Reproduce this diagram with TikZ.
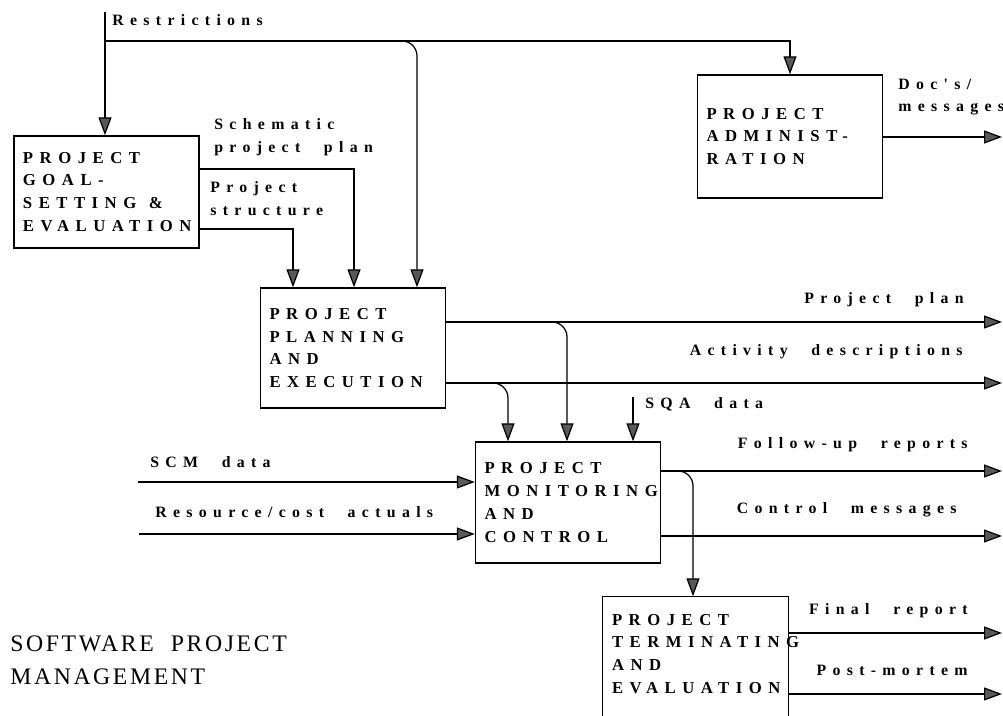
\documentclass[tikz,border=0pt]{standalone}
\usepackage{fontspec}
\usetikzlibrary{arrows.meta}
\newfontfamily\boxfont[LetterSpace=39]{Liberation Serif}
\newfontfamily\labelfont[LetterSpace=40,WordSpace=2.3]{Liberation Serif}
\newfontfamily\titlefont[LetterSpace=11,WordSpace=2]{Liberation Serif}
\hyphenpenalty=10000

\tikzset{
  box/.style={draw, line width=0.8pt, text width=33.4mm, align=left,
              inner xsep=1.8mm, inner ysep=0pt, minimum width=37mm,
              font=\boxfont\bfseries\fontsize{9.5}{13}\selectfont},
  lbl/.style={inner sep=0pt, align=left,
              font=\labelfont\bfseries\fontsize{9}{13}\selectfont},
  title/.style={inner sep=0pt, align=left,
              font=\titlefont\fontsize{13.5}{18.7}\selectfont},
  flow/.style={line width=0.7pt, -{Triangle[length=3.6mm,width=2.6mm,fill=black!65]}},
}

\begin{document}
\begin{tikzpicture}[x=0.2mm, y=-0.2mm]
  \useasboundingbox (0,0) rectangle (1003,716);

  % activity boxes
  \node[box, minimum height=22.4mm] (goal) at (106.5,192)
       {PROJECT\\GOAL-\\SETTING\hspace*{2.5mm}\&\\EVALUATION};
  \node[box, minimum height=24mm] (plan) at (353,348)
       {PROJECT\\PLANNING\\AND\\EXECUTION};
  \node[box, minimum height=24.2mm] (mon) at (568,502.5)
       {PROJECT\\MONITORING\\AND\\CONTROL};
  \node[box, minimum height=24.6mm] (adm) at (790,136.5)
       {PROJECT\\ADMINIST-\\RATION};
  \node[box, draw=none, minimum height=22.8mm] (term) at (695.5,654)
       {PROJECT\\TERMINATING\\AND\\EVALUATION};
  \draw[line width=0.8pt] (term.north west) rectangle ([yshift=-12mm]term.south east);

  % restrictions
  \coordinate (rtop) at (105,12);
  \coordinate (rjoin) at (105,41);
  \coordinate (rbend) at (417,41);
  \draw[flow] (rtop) -- (goal.north -| rtop);
  \draw[flow] (rjoin) -| (adm.north);
  \draw[flow, rounded corners=3mm] (rjoin) -- (rbend) -- (plan.north -| rbend);

  % goal-setting to planning
  \coordinate (schem) at (354,169);
  \coordinate (struc) at (293,229);
  \draw[flow] (goal.east |- schem) -- (schem) -- (plan.north -| schem);
  \draw[flow] (goal.east |- struc) -- (struc) -- (plan.north -| struc);

  % planning outputs
  \coordinate (pplan) at (1002,322);
  \coordinate (actd) at (1002,383);
  \coordinate (pbend) at (567,322);
  \coordinate (abend) at (508,383);
  \draw[flow] (plan.east |- pplan) -- (pplan);
  \draw[flow] (plan.east |- actd) -- (actd);
  \draw[flow, rounded corners=3mm] (plan.east |- pbend) -- (pbend) -- (mon.north -| pbend);
  \draw[flow, rounded corners=3mm] (plan.east |- abend) -- (abend) -- (mon.north -| abend);

  % monitoring inputs
  \coordinate (sqa) at (633,397);
  \coordinate (scm) at (138,482);
  \coordinate (res) at (139,534);
  \draw[flow] (sqa) -- (mon.north -| sqa);
  \draw[flow] (scm) -- (mon.west |- scm);
  \draw[flow] (res) -- (mon.west |- res);

  % monitoring outputs
  \coordinate (fup) at (1002,471);
  \coordinate (ctl) at (1002,536);
  \coordinate (tbend) at (693,471);
  \draw[flow] (mon.east |- fup) -- (fup);
  \draw[flow] (mon.east |- ctl) -- (ctl);
  \draw[flow, rounded corners=3mm] (mon.east |- tbend) -- (tbend) -- (term.north -| tbend);

  % terminating and administration outputs
  \coordinate (fin) at (1002,633);
  \coordinate (post) at (1002,694);
  \coordinate (docs) at (1002,137);
  \draw[flow] (term.east |- fin) -- (fin);
  \draw[flow] (term.east |- post) -- (post);
  \draw[flow] (adm.east |- docs) -- (docs);

  % labels
  \node[lbl, anchor=west] (restr) at (112,20) {Restrictions};
  \node[lbl, anchor=west] (schemlbl) at (214,137) {Schematic\\project plan};
  \node[lbl, anchor=west] (struclbl) at (210,199) {Project\\structure};
  \node[lbl, anchor=west] (docslbl) at (898,97) {Doc's/\\messages};
  \node[lbl, anchor=east] (pplanlbl) at (964,300) {Project plan};
  \node[lbl, anchor=east] (actdlbl) at (963,352) {Activity descriptions};
  \node[lbl, anchor=west] (sqalbl) at (645,404) {SQA data};
  \node[lbl, anchor=west] (scmlbl) at (150,462) {SCM data};
  \node[lbl, anchor=west] (reslbl) at (155,512) {Resource/cost actuals};
  \node[lbl, anchor=east] (fuplbl) at (968,445) {Follow-up reports};
  \node[lbl, anchor=east] (ctllbl) at (957,510) {Control messages};
  \node[lbl, anchor=east] (finlbl) at (968,611) {Final report};
  \node[lbl, anchor=east] (postlbl) at (968,670) {Post-mortem};
  \node[title, anchor=west] (title) at (10,660) {SOFTWARE PROJECT\\MANAGEMENT};
\end{tikzpicture}
\end{document}
